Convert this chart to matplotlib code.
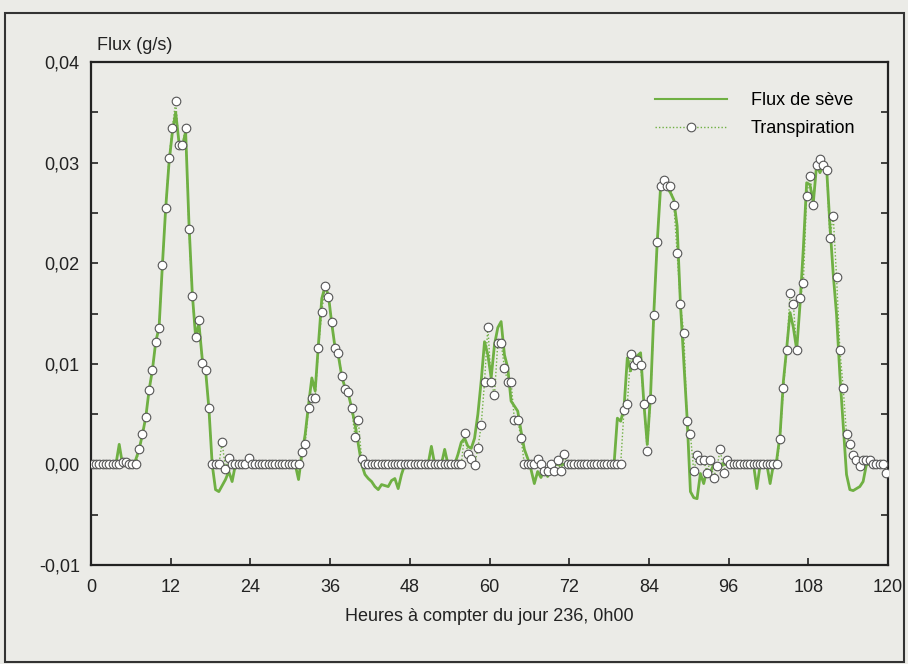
import numpy as np
import matplotlib.pyplot as plt
from matplotlib.lines import Line2D
from matplotlib.patches import Rectangle
from matplotlib.ticker import MultipleLocator, FuncFormatter

plt.rcParams['font.family'] = ['Liberation Sans', 'DejaVu Sans']

# half-hourly series (mid-interval times), in 1e-4 g/s, one row = 6 hours
hours = 0.25 + np.arange(240) * 0.5

transpiration = [
    0, 0, 0, 0, 0, 0, 0, 0, 0, 2, 2, 0,
    0, 0, 15, 30, 47, 74, 94, 122, 136, 198, 255, 305,
    334, 361, 318, 318, 334, 234, 167, 127, 144, 101, 94, 56,
    0, 0, 0, 22, -5, 6, 0, 0, 0, 0, 0, 6,
    0, 0, 0, 0, 0, 0, 0, 0, 0, 0, 0, 0,
    0, 0, 0, 12, 20, 56, 66, 66, 116, 152, 177, 166,
    142, 116, 111, 88, 75, 72, 56, 27, 44, 5, 0, 0,
    0, 0, 0, 0, 0, 0, 0, 0, 0, 0, 0, 0,
    0, 0, 0, 0, 0, 0, 0, 0, 0, 0, 0, 0,
    0, 0, 0, 0, 31, 10, 5, -1, 16, 39, 82, 137,
    82, 69, 121, 121, 96, 82, 82, 44, 44, 26, 0, 0,
    0, 0, 5, 0, -7, -7, 0, -7, 4, -7, 10, 0,
    0, 0, 0, 0, 0, 0, 0, 0, 0, 0, 0, 0,
    0, 0, 0, 0, 54, 60, 110, 99, 104, 99, 60, 13,
    65, 149, 221, 277, 283, 277, 277, 258, 210, 159, 131, 43,
    30, -7, 9, 4, 4, -8, 4, -13, -2, 15, -8, 4,
    0, 0, 0, 0, 0, 0, 0, 0, 0, 0, 0, 0,
    0, 0, 0, 25, 76, 114, 170, 159, 114, 165, 180, 267,
    287, 258, 298, 304, 298, 293, 225, 247, 186, 114, 76, 30,
    20, 9, 4, -2, 4, 4, 4, 0, 0, 0, 0, -8,
]

sap_flux = [
    0, 0, 0, 0, 0, 0, 0, 0, 20, 0, 0, 0,
    0, 5, 15, 30, 47, 74, 94, 122, 136, 198, 255, 300,
    330, 350, 320, 315, 331, 240, 170, 127, 140, 105, 94, 56,
    0, -25, -27, -21, -15, -7, -17, 0, 0, 0, 0, 0,
    0, 0, 0, 0, 0, 0, 0, 0, 0, 0, 0, 0,
    0, 0, -15, 10, 30, 59, 86, 73, 120, 165, 177, 168,
    140, 116, 108, 88, 76, 70, 56, 40, 20, 0, -10, -14,
    -17, -22, -25, -20, -21, -22, -16, -14, -24, -10, 0, 0,
    0, 0, 0, 0, 0, 0, 18, 0, 0, 0, 15, 0,
    0, 0, 10, 22, 26, 18, 16, 26, 50, 83, 122, 109,
    86, 119, 136, 142, 109, 96, 63, 58, 53, 33, 15, 6,
    -5, -19, -7, -13, -5, -12, 0, 0, 0, 0, 0, 0,
    0, 0, 0, 0, 0, 0, 0, 0, 0, 0, 0, 0,
    0, 0, 46, 43, 56, 106, 93, 106, 108, 111, 60, 20,
    69, 152, 221, 275, 281, 275, 270, 263, 237, 159, 102, 46,
    -27, -33, -34, -9, -19, -5, -8, 0, 0, 0, 0, 0,
    0, 0, 0, 0, 0, 0, 0, 0, -24, 0, 0, 0,
    -19, 0, 5, 30, 83, 116, 151, 136, 114, 159, 215, 280,
    278, 260, 298, 290, 298, 295, 238, 189, 149, 89, 40, -10,
    -25, -26, -24, -22, -17, 0, 0, 0, 0, 0, 0, 0,
]

transpiration = np.array(transpiration) * 1e-4
sap_flux = np.array(sap_flux) * 1e-4

bg = '#ebebe7'
green = '#6fb043'

fig = plt.figure(figsize=(9.08, 6.64), dpi=100, facecolor=bg)
ax = fig.add_axes([0.1002, 0.149, 0.8778, 0.7576], facecolor=bg)

ax.plot(hours, sap_flux, color=green, lw=2.0, zorder=2)
ax.plot(hours, transpiration, color=green, lw=1.0, ls=(0, (1, 1.5)),
        marker='o', ms=6.2, mfc='white', mec='#555555', mew=0.8, zorder=3)

ax.set_xlim(0, 120)
ax.set_ylim(-0.01, 0.04)
ax.xaxis.set_major_locator(MultipleLocator(12))
ax.yaxis.set_major_locator(MultipleLocator(0.01))
ax.yaxis.set_minor_locator(MultipleLocator(0.005))
ax.yaxis.set_major_formatter(FuncFormatter(lambda v, p: f'{v:.2f}'.replace('.', ',')))
ax.tick_params(axis='both', which='both', direction='in', length=5, width=1.2,
               labelsize=13, colors='#222222', pad=8)
ax.tick_params(axis='x', pad=10)
ax.tick_params(axis='y', which='both', right=True)
for s in ax.spines.values():
    s.set_linewidth(1.6)
    s.set_color('#222222')

ax.set_xlabel('Heures à compter du jour 236, 0h00', fontsize=13, color='#222222', labelpad=9)
fig.text(0.107, 0.932, 'Flux (g/s)', fontsize=13, color='#222222', va='center')

handles = [
    Line2D([], [], color=green, lw=1.5),
    Line2D([], [], color=green, lw=1.0, ls=(0, (1, 1.5)), marker='o', ms=6.2,
           mfc='white', mec='#555555', mew=0.8),
]
ax.legend(handles, ['Flux de sève', 'Transpiration'], loc='upper right',
          bbox_to_anchor=(0.975, 0.965), frameon=False, fontsize=13,
          handlelength=4, handletextpad=1.3, labelspacing=0.6, borderaxespad=0.3)

# outer frame around the figure
fig.patches.append(Rectangle((0.006, 0.003), 0.99, 0.978, transform=fig.transFigure,
                             fill=False, lw=1.5, ec='#333333'))

fig.savefig('out.png', dpi=100, facecolor=bg)
